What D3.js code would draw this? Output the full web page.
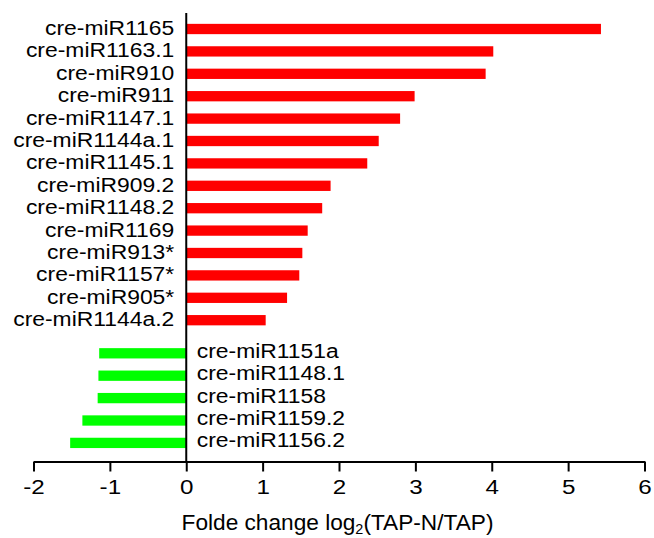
<!DOCTYPE html>
<html>
<head>
<meta charset="utf-8">
<script src="https://cdn.jsdelivr.net/npm/d3@7"></script>
<style>
html,body{margin:0;padding:0;background:#fff;}
svg{display:block;}
text{font-family:"Liberation Sans",Arial,sans-serif;fill:#000;}
</style>
</head>
<body>
<svg id="chart" width="654" height="538"></svg>
<script>
// Data
const upNames = ["cre-miR1165","cre-miR1163.1","cre-miR910","cre-miR911","cre-miR1147.1","cre-miR1144a.1","cre-miR1145.1","cre-miR909.2","cre-miR1148.2","cre-miR1169","cre-miR913*","cre-miR1157*","cre-miR905*","cre-miR1144a.2"];
const upValues = [5.43,4.02,3.92,2.99,2.80,2.52,2.37,1.89,1.78,1.59,1.52,1.48,1.32,1.04];
const downNames = ["cre-miR1151a","cre-miR1148.1","cre-miR1158","cre-miR1159.2","cre-miR1156.2"];
const downValues = [-1.14,-1.15,-1.16,-1.36,-1.52];
const xTicks = [-2,-1,0,1,2,3,4,5,6];
const xTitle = "Folde change log";
const xTitleSub = "2";
const xTitleTail = "(TAP-N/TAP)";

const data = upNames.map((n,i)=>({name:n,value:upValues[i],group:"up"}))
  .concat(downNames.map((n,i)=>({name:n,value:downValues[i],group:"down"})));

const svg = d3.select("#chart");
const x = d3.scaleLinear().domain([-2,6]).range([33.5,644.5]);
const y = d3.scaleBand().domain(data.map(d=>d.name)).range([23.85,437.35]).paddingInner(0.54).paddingOuter(0);
const gap = 10.7;
const yPos = d => y(d.name) + (d.group==="down" ? gap : 0);
const sx = 1.1;

svg.append("g").selectAll("rect").data(data).join("rect")
  .attr("x", d=>x(Math.min(0,d.value)))
  .attr("y", yPos)
  .attr("width", d=>Math.abs(x(d.value)-x(0)))
  .attr("height", y.bandwidth())
  .attr("fill", d=>d.group==="up" ? "#ff0000" : "#00ff00");

// labels
svg.append("g").selectAll("text").data(data).join("text")
  .attr("text-anchor", d=>d.group==="up" ? "end" : "start")
  .attr("font-size", "20.8px")
  .attr("transform", d=>{
    const tx = d.group==="up" ? x(0)-12 : x(0)+10.5;
    const ty = yPos(d) + y.bandwidth()/2 + (d.group==="up" ? 6 : 4.5);
    return `translate(${tx},${ty}) scale(${sx},1)`;
  })
  .text(d=>d.name);

// vertical zero line
svg.append("line")
  .attr("x1", x(0)).attr("x2", x(0))
  .attr("y1", 13).attr("y2", 462)
  .attr("stroke","#000").attr("stroke-width",2);

// x axis
const ax = svg.append("g").attr("transform","translate(0,461.5)")
  .call(d3.axisBottom(x).tickValues(xTicks).tickFormat(d=>String(d)).tickSize(10).tickSizeOuter(0));
ax.attr("font-family",null).attr("font-size",null);
ax.select(".domain").attr("stroke","#000").attr("stroke-width",2);
ax.selectAll(".tick line").attr("stroke","#000").attr("stroke-width",2);
ax.selectAll(".tick text")
  .attr("font-size","20.5px")
  .attr("y",null).attr("dy",null)
  .attr("transform",`translate(0,32) scale(1.18,1)`);

// axis title
const t = svg.append("text")
  .attr("text-anchor","middle")
  .attr("font-size","22px")
  .attr("transform",`translate(337.5,530) scale(1.03,1)`);
t.append("tspan").text(xTitle);
t.append("tspan").attr("font-size","14px").attr("dy","4").text(xTitleSub);
t.append("tspan").attr("dy","-4").text(xTitleTail);
</script>
</body>
</html>
